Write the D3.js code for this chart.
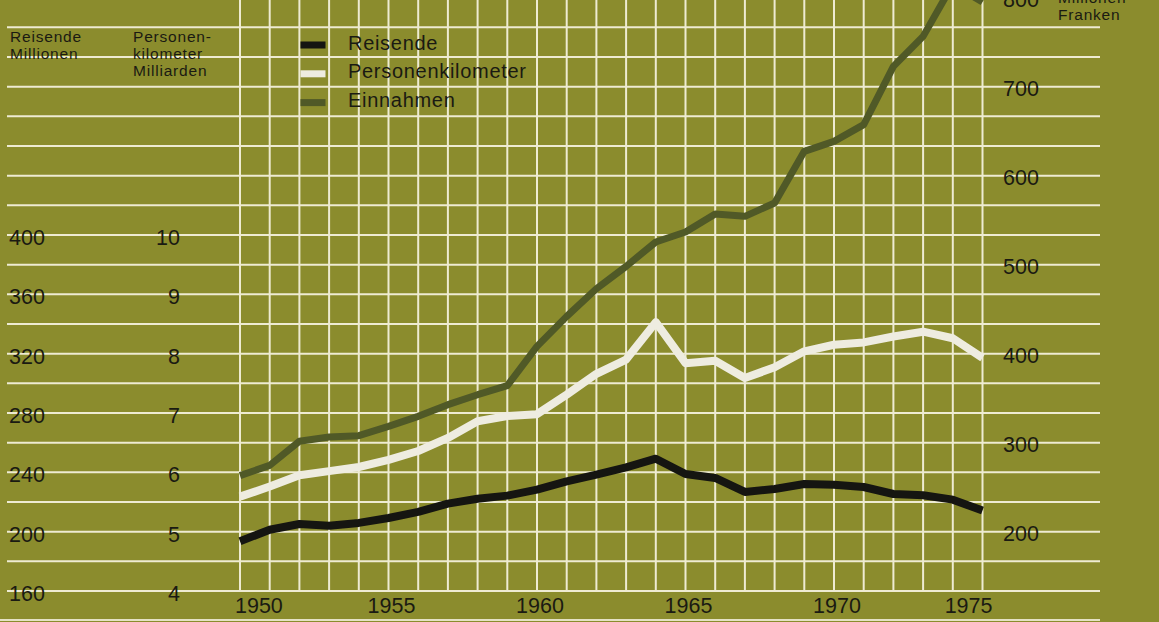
<!DOCTYPE html>
<html>
<head>
<meta charset="utf-8">
<script src="https://cdn.jsdelivr.net/npm/d3@7"></script>
<style>
  body { margin: 0; background: #8b8c2d; }
  svg { display: block; font-family: "Liberation Sans", Arial, sans-serif; }
  .tick-label { font-size: 21.5px; fill: #1a1a12; }
  .head { font-size: 15.5px; fill: #1a1a12; letter-spacing: 0.8px; }
  .legend-label { font-size: 20px; fill: #1a1a12; letter-spacing: 0.7px; }
</style>
</head>
<body>
<div class="chart"></div>
<script>
/* globals d3 */
const years = [1950, 1951, 1952, 1953, 1954, 1955, 1956, 1957, 1958, 1959, 1960, 1961, 1962,
  1963, 1964, 1965, 1966, 1967, 1968, 1969, 1970, 1971, 1972, 1973, 1974, 1975];

// Reisende, Millionen
const reisende = [193.5, 201.3, 205.2, 204, 205.9, 209.2, 213.3, 218.9, 222.2, 224.3, 228.3, 233.9, 238.4,
  243.3, 249.2, 238.9, 236.2, 226.8, 228.8, 232.1, 231.7, 230.1, 225.4, 224.5, 221.6, 214.2];

// Personenkilometer, Milliarden
const personenkm = [5.59, 5.76, 5.95, 6.02, 6.09, 6.21, 6.36, 6.58, 6.86, 6.95, 6.98, 7.31, 7.66,
  7.90, 8.53, 7.84, 7.88, 7.59, 7.77, 8.04, 8.15, 8.19, 8.29, 8.37, 8.26, 7.93];

// Einnahmen, Millionen Franken
const einnahmen = [263, 274.5, 301.5, 306.4, 307.9, 318.3, 329.6, 342.7, 353.9, 364, 408.2, 441.9, 473,
  498.1, 525.5, 536.7, 557, 554.3, 569.3, 627.3, 638.5, 657.3, 722.8, 756.5, 815, 795];

const yearTicks = [1950, 1955, 1960, 1965, 1970, 1975];
const reisendeTicks = [160, 200, 240, 280, 320, 360, 400];
const pkmTicks = [4, 5, 6, 7, 8, 9, 10];
const einnahmenTicks = [200, 300, 400, 500, 600, 700, 800];
const gridValues = d3.range(160, 541, 20); // on the Reisende scale

const seriesNames = ['Reisende', 'Personenkilometer', 'Einnahmen'];
const seriesColors = ['#151511', '#eeece0', '#505927'];

const width = 1159;
const height = 622;

const x = d3.scaleLinear().domain([1950, 1975]).range([240, 982.5]);
const yR = d3.scaleLinear().domain([160, 400]).range([591, 235]);
const yP = d3.scaleLinear().domain([4, 10]).range([591, 235]);
const yE = d3.scaleLinear().domain([200, 700]).range([yR(200), yR(500)]);

const svg = d3.select('.chart').append('svg')
  .attr('width', width)
  .attr('height', height);

svg.append('rect')
  .attr('width', width)
  .attr('height', height)
  .attr('fill', '#8b8c2d');

// grid
svg.selectAll('.hgrid')
  .data(gridValues)
  .enter()
  .append('line')
  .attr('class', 'hgrid')
  .attr('x1', 7)
  .attr('x2', 1100)
  .attr('y1', d=>yR(d))
  .attr('y2', d=>yR(d))
  .attr('stroke', '#eeebd2')
  .attr('stroke-width', 2);

svg.append('line')
  .attr('x1', 0)
  .attr('x2', 1100)
  .attr('y1', 620)
  .attr('y2', 620)
  .attr('stroke', '#e4e2c4')
  .attr('stroke-width', 2);

svg.selectAll('.vgrid')
  .data(years)
  .enter()
  .append('line')
  .attr('class', 'vgrid')
  .attr('x1', d=>x(d))
  .attr('x2', d=>x(d))
  .attr('y1', 0)
  .attr('y2', yR(160))
  .attr('stroke', '#eeebd2')
  .attr('stroke-width', 2);

// axis labels
svg.selectAll('.r-label')
  .data(reisendeTicks)
  .enter()
  .append('text')
  .attr('class', 'tick-label')
  .attr('x', 9)
  .attr('y', d=>yR(d))
  .attr('dy', 10)
  .text(d=>d);

svg.selectAll('.p-label')
  .data(pkmTicks)
  .enter()
  .append('text')
  .attr('class', 'tick-label')
  .attr('x', 180)
  .attr('y', d=>yP(d))
  .attr('dy', 10)
  .attr('text-anchor', 'end')
  .text(d=>d);

svg.selectAll('.e-label')
  .data(einnahmenTicks)
  .enter()
  .append('text')
  .attr('class', 'tick-label')
  .attr('x', 1003)
  .attr('y', d=>yE(d))
  .attr('dy', 9)
  .text(d=>d);

svg.selectAll('.year-label')
  .data(yearTicks)
  .enter()
  .append('text')
  .attr('class', 'tick-label')
  .attr('x', (d,i)=>x(d) + (i===0 ? -5 : i===yearTicks.length-1 ? 10 : 3))
  .attr('y', 613)
  .attr('text-anchor', (d,i)=>i===0 ? 'start' : i===yearTicks.length-1 ? 'end' : 'middle')
  .text(d=>d);

// unit headings
const heads = [
  {x: 10, lines: ['Reisende', 'Millionen']},
  {x: 133, lines: ['Personen-', 'kilometer', 'Milliarden']},
];
heads.forEach(h=>{
  svg.selectAll(null)
    .data(h.lines)
    .enter()
    .append('text')
    .attr('class', 'head')
    .attr('x', h.x)
    .attr('y', (d,i)=>41.7 + i*17)
    .text(d=>d);
});

svg.selectAll('.head-right')
  .data(['Millionen', 'Franken'])
  .enter()
  .append('text')
  .attr('class', 'head')
  .attr('x', 1058)
  .attr('y', (d,i)=>2.5 + i*17)
  .text(d=>d);

// lines
const seriesData = [reisende, personenkm, einnahmen];
const scales = [yR, yP, yE];
const drawOrder = [2, 1, 0];

drawOrder.forEach(k=>{
  const line = d3.line()
    .x((d,i)=>x(years[i]))
    .y(d=>scales[k](d));
  svg.append('path')
    .datum(seriesData[k])
    .attr('fill', 'none')
    .attr('stroke', seriesColors[k])
    .attr('stroke-width', k===2 ? 7 : 8)
    .attr('stroke-linejoin', 'round')
    .attr('d', line);
});

// legend
const legend = svg.selectAll('.legend')
  .data(seriesNames)
  .enter()
  .append('g')
  .attr('class', 'legend')
  .attr('transform', (d,i)=>`translate(0, ${45 + i*28.8})`);

legend.append('rect')
  .attr('x', 300.5)
  .attr('y', -3.5)
  .attr('width', 25)
  .attr('height', 7)
  .attr('fill', (d,i)=>seriesColors[i]);

legend.append('text')
  .attr('class', 'legend-label')
  .attr('x', 348)
  .attr('y', 4.5)
  .text(d=>d);
</script>
</body>
</html>
